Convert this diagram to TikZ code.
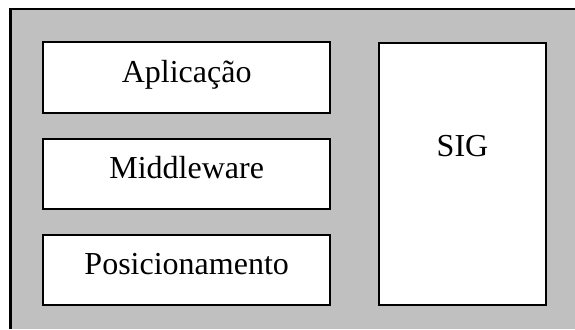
\documentclass[tikz,border=0pt]{standalone}
\usepackage{fontspec}
\setmainfont{Liberation Serif}
\usetikzlibrary{positioning,calc}
\definecolor{framegray}{RGB}{192,192,192}

\begin{document}
\begin{tikzpicture}[
    x=1pt, y=-1pt,
    node distance=24pt,
    every node/.style={font=\fontsize{32}{38}\selectfont},
    layer/.style={
        draw,
        rectangle,
        fill=white,
        line width=2pt,
        inner sep=0pt,
        text height=15pt,
        text depth=6pt,
        minimum width=286.5pt,
        minimum height=70pt
    },
    sigbox/.style={
        layer,
        minimum width=166.5pt,
        minimum height=262.5pt
    }
]

% ==========================================================
% FRAME
% ==========================================================
\useasboundingbox (0,0) rectangle (575,329);
\fill[framegray] (10.5,9) rectangle (575,329);
\draw[line width=2.2pt] (10.5,329) -- (10.5,9) -- (575,9);

% ==========================================================
% LAYERS
% ==========================================================
\node[layer] (app) at (186.7,77.5) {Aplicação};
\node[layer, below=of app] (mid) {Middleware};
\node[layer, below=of mid] (pos) {Posicionamento};

% ==========================================================
% SIG
% ==========================================================
\node[sigbox] (sig) at (462.5,174) {};
\node[anchor=base] (siglabel) at ($(sig.north)+(0,115)$) {SIG};

\end{tikzpicture}
\end{document}
